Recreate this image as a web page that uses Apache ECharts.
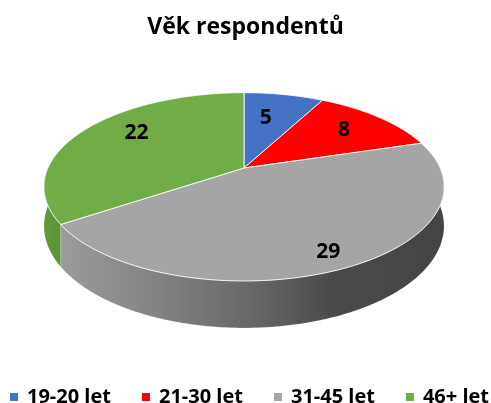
<!DOCTYPE html>
<html>
<head>
<meta charset="utf-8">
<script src="https://cdn.jsdelivr.net/npm/echarts@6/dist/echarts.min.js"></script>
<style>html,body{margin:0;padding:0;background:#fff}#c{width:491px;height:403px}</style>
</head>
<body>
<div id="c"></div>
<script>
const titleText = 'Věk respondentů';
const categories = ['19-20 let', '21-30 let', '31-45 let', '46+ let'];
const values = [5, 8, 29, 22];

// styles
const topColors = ['#4472C4', '#FF0000', '#A5A5A5', '#70AD47'];
const wallColors = [
  '#2F5597', '#B00000',
  {type: 'linear', x: 60, y: 0, x2: 440, y2: 0, global: true,
   colorStops: [{offset: 0, color: '#9c9c9c'}, {offset: 0.25, color: '#838383'},
                {offset: 0.5, color: '#686868'}, {offset: 0.72, color: '#4a4a4a'},
                {offset: 1, color: '#444444'}]},
  {type: 'linear', x: 40, y: 0, x2: 70, y2: 0, global: true,
   colorStops: [{offset: 0, color: '#639b3d'}, {offset: 1, color: '#5a8f35'}]}
];
const labelRadius = [0.5, 0.72, 0.85, 0.66];
const labelShift = [-10, 0, 2, -9];

// projection of the tilted disc
const CX = 244, CY = 168, K = 196, P = 56.76, R = -0.2, D = 37.6;
function proj(f, phi, h) {
  const u = f * Math.sin(phi), v = -f * Math.cos(phi);
  const den = 1 + R * v;
  return [CX + K * u / den, (P * v + CY) / den + h * D / den];
}
const total = values.reduce((a, b) => a + b, 0);

function makeRender(i) {
  return function (params, api) {
    let before = 0;
    for (let j = 0; j < i; j++) before += values[j];
    const val = api.value(0);
    const a0 = before / total * Math.PI * 2;
    const a1 = (before + val) / total * Math.PI * 2;
    const children = [];
    const step = Math.PI / 360;
    // wall (front part only)
    const w0 = Math.max(a0, 80 * Math.PI / 180), w1 = Math.min(a1, 280 * Math.PI / 180);
    if (w1 > w0) {
      const topArc = [], botArc = [];
      const n = Math.max(2, Math.ceil((w1 - w0) / step));
      for (let k = 0; k <= n; k++) {
        const p = w0 + (w1 - w0) * k / n;
        topArc.push(proj(1, p, 0));
        botArc.push(proj(1, p, 1));
      }
      children.push({
        type: 'polygon', z2: 1,
        shape: {points: topArc.concat(botArc.reverse())},
        style: {fill: wallColors[i], stroke: 'rgba(255,255,255,0.35)', lineWidth: 0.6}
      });
    }
    // top face
    const pts = [proj(0, 0, 0)];
    const n2 = Math.max(2, Math.ceil((a1 - a0) / step));
    for (let k = 0; k <= n2; k++) pts.push(proj(1, a0 + (a1 - a0) * k / n2, 0));
    children.push({
      type: 'polygon', z2: 5,
      shape: {points: pts},
      style: {fill: topColors[i], stroke: 'rgba(255,255,255,0.85)', lineWidth: 1}
    });
    // label
    const lp = proj(labelRadius[i], (a0 + a1) / 2, 0);
    children.push({
      type: 'text', z2: 10,
      x: lp[0], y: lp[1] + labelShift[i],
      style: {text: String(val), fill: '#000', font: 'bold 21px "Open Sans"',
              align: 'center', verticalAlign: 'middle'}
    });
    return {type: 'group', children: children};
  };
}

const series = categories.map((name, i) => ({
  type: 'custom',
  name: name,
  coordinateSystem: 'none',
  itemStyle: {color: topColors[i]},
  data: [[values[i]]],
  renderItem: makeRender(i),
  animation: false
}));

const chart = echarts.init(document.getElementById('c'), null, {renderer: 'canvas'});
chart.setOption({
  animation: false,
  backgroundColor: '#fff',
  title: {
    text: titleText, left: 'center', top: 11,
    textStyle: {fontFamily: 'Open Sans', fontWeight: 'bold', fontSize: 23, color: '#000'}
  },
  legend: {
    data: categories,
    left: 10, top: 387, width: 481, padding: 0,
    icon: 'rect', itemWidth: 8, itemHeight: 8, itemGap: 31,
    textStyle: {fontFamily: 'Open Sans', fontWeight: 'bold', fontSize: 20, color: '#000', padding: [0, 0, 0, 4]}
  },
  series: series
});
</script>
</body>
</html>
